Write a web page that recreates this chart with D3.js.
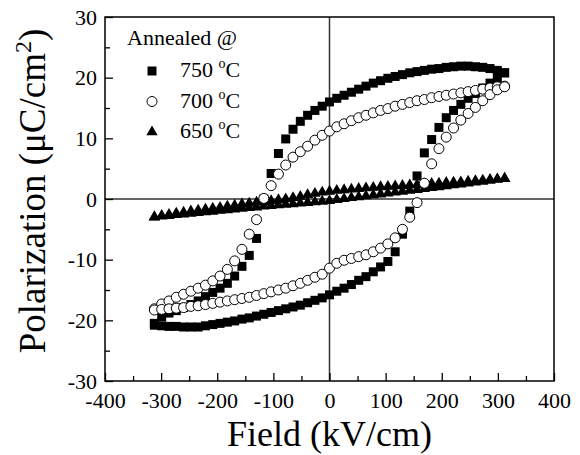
<!DOCTYPE html>
<html>
<head>
<meta charset="utf-8">
<script src="https://cdn.jsdelivr.net/npm/d3@7"></script>
<style>
  body { margin: 0; background: #fff; }
  text { font-family: "Liberation Serif", "Times New Roman", serif; fill: #000; }
</style>
</head>
<body>
<div id="chart"></div>
<script>
// field values (kV/cm), shared by every branch, ascending
const field = [-312, -299, -286, -273, -260, -247, -234, -221, -208, -195, -182, -169, -156, -143, -130, -117, -104, -91, -78, -65, -52, -39, -26, -13,
  0, 13, 26, 39, 52, 65, 78, 91, 104, 117, 130, 143, 156, 169, 182, 195, 208, 221, 234, 247, 260, 273, 286, 299, 312]

// polarization (uC/cm2) read off the loops, same order as field
// "up" = descending branch (upper curve), "down" = ascending branch (lower curve)
const p750up = [-20.5, -19.4, -18.8, -18.4, -17.9, -17.4, -16.8, -16.1, -15.4, -14.7, -13.9, -12.7, -11.1, -9.3, -6.5, 0.0, 4.2, 7.5, 9.9, 11.5, 12.8, 13.8, 14.6, 15.3,
  16.0, 16.6, 17.1, 17.6, 18.1, 18.6, 19.1, 19.5, 19.9, 20.2, 20.5, 20.8, 21.0, 21.2, 21.4, 21.5, 21.7, 21.8, 21.9, 21.9, 21.8, 21.7, 21.5, 21.2, 20.8]
const p750down = [-20.8, -20.9, -21.0, -21.0, -21.1, -21.1, -21.1, -20.9, -20.7, -20.5, -20.3, -20.1, -19.8, -19.6, -19.3, -19.0, -18.7, -18.4, -18.1, -17.8, -17.5, -17.1, -16.7, -16.3,
  -15.8, -15.2, -14.7, -14.1, -13.4, -12.8, -12.0, -11.2, -10.3, -8.7, -5.8, -2.0, 3.8, 7.6, 9.8, 11.8, 13.4, 14.6, 15.6, 16.6, 17.4, 18.3, 19.1, 19.9, 20.8]

const p700up = [-18.1, -17.3, -16.8, -16.2, -15.7, -15.2, -14.7, -14.2, -13.5, -12.7, -11.6, -10.2, -8.3, -5.8, -3.4, 0.1, 2.2, 4.1, 5.6, 6.9, 7.8, 8.7, 9.7, 10.5,
  11.2, 11.9, 12.4, 12.9, 13.4, 13.8, 14.2, 14.6, 14.9, 15.3, 15.6, 15.9, 16.2, 16.4, 16.7, 16.9, 17.1, 17.3, 17.5, 17.7, 17.9, 18.1, 18.3, 18.5, 18.6]
const p700down = [-18.3, -18.2, -18.1, -18.0, -17.9, -17.7, -17.6, -17.4, -17.2, -17.0, -16.8, -16.6, -16.4, -16.2, -15.9, -15.6, -15.3, -15.0, -14.7, -14.3, -13.9, -13.4, -12.9, -12.4,
  -11.4, -10.6, -10.1, -9.8, -9.5, -9.2, -8.7, -8.1, -7.4, -6.4, -5.0, -3.0, -0.6, 2.6, 5.8, 8.3, 10.2, 11.7, 13.0, 14.1, 15.1, 16.2, 17.2, 18.0, 18.5]

const p650up = [-3.0, -2.75, -2.55, -2.35, -2.2, -2.0, -1.85, -1.7, -1.55, -1.4, -1.2, -1.05, -0.85, -0.7, -0.55, -0.45, -0.3, -0.15, 0.0, 0.2, 0.4, 0.7, 0.9, 1.1,
  1.25, 1.4, 1.5, 1.6, 1.7, 1.8, 1.9, 2.0, 2.05, 2.15, 2.2, 2.3, 2.35, 2.45, 2.55, 2.6, 2.7, 2.75, 2.8, 2.9, 3.0, 3.1, 3.2, 3.3, 3.4]
const p650down = [-2.95, -2.85, -2.75, -2.6, -2.5, -2.4, -2.25, -2.15, -2.05, -1.9, -1.8, -1.7, -1.55, -1.45, -1.35, -1.2, -1.1, -1.0, -0.9, -0.8, -0.7, -0.6, -0.5, -0.4,
  -0.3, -0.1, 0.05, 0.2, 0.35, 0.5, 0.65, 0.8, 0.95, 1.1, 1.25, 1.4, 1.55, 1.7, 1.85, 2.0, 2.15, 2.3, 2.45, 2.6, 2.75, 2.9, 3.05, 3.2, 3.35]

const legendTitle = 'Annealed @'
const legendLabels = ['750', '700', '650']
const xTicks = [-400, -300, -200, -100, 0, 100, 200, 300, 400]
const yTicks = [-30, -20, -10, 0, 10, 20, 30]

const margin = { top: 17, right: 26, bottom: 74, left: 105 },
  width = 580 - margin.left - margin.right,
  height = 455 - margin.top - margin.bottom

const svg = d3
  .select('#chart')
  .append('svg')
  .attr('width', 580)
  .attr('height', 455)

const g = svg.append('g').attr('transform', `translate(${margin.left},${margin.top})`)

const x = d3.scaleLinear().domain([-400, 400]).range([0, width])
const y = d3.scaleLinear().domain([-30, 30]).range([height, 0])

// zero lines
g.append('line')
  .attr('x1', x(0)).attr('x2', x(0))
  .attr('y1', 0).attr('y2', height)
  .attr('stroke', '#333').attr('stroke-width', 1.5)
g.append('line')
  .attr('x1', 0).attr('x2', width)
  .attr('y1', y(0)).attr('y2', y(0))
  .attr('stroke', '#333').attr('stroke-width', 1.5)

// axes, ticks pointing inward
const xMinor = xTicks.slice(0, -1).map((d) => d + 50)
const yMinor = yTicks.slice(0, -1).map((d) => d + 5)
const plain = (d) => String(d) // keep the ascii hyphen like the original

const xAxis = g.append('g').attr('transform', `translate(0,${height})`)
xAxis.call(d3.axisBottom(x).tickValues(xTicks).tickSizeInner(-8).tickSizeOuter(0).tickPadding(11).tickFormat(plain))
xAxis.append('g').call(d3.axisBottom(x).tickValues(xMinor).tickSizeInner(-5).tickSizeOuter(0).tickFormat(''))

const yAxis = g.append('g')
yAxis.call(d3.axisLeft(y).tickValues(yTicks).tickSizeInner(-8).tickSizeOuter(0).tickPadding(8).tickFormat(plain))
yAxis.append('g').call(d3.axisLeft(y).tickValues(yMinor).tickSizeInner(-5).tickSizeOuter(0).tickFormat(''))

g.selectAll('.domain').remove()
g.selectAll('.tick line').attr('stroke', '#000').attr('stroke-width', 1.3)
g.selectAll('.tick text')
  .style('font-family', '"Liberation Serif", "Times New Roman", serif')
  .style('font-size', '22px')
  .attr('fill', '#000')

// frame
g.append('rect')
  .attr('width', width).attr('height', height)
  .attr('fill', 'none').attr('stroke', '#000').attr('stroke-width', 1.5)

// markers
const toPts = (ps) => field.map((f, i) => ({ f: f, p: ps[i] }))

const tri = d3.symbol().type(d3.symbolTriangle).size(56)
const sq = d3.symbol().type(d3.symbolSquare).size(81)

g.selectAll('.s650')
  .data(toPts(p650up).concat(toPts(p650down)))
  .join('path')
  .attr('class', 's650')
  .attr('d', tri)
  .attr('transform', (d) => `translate(${x(d.f)},${y(d.p)})`)
  .attr('fill', '#000')

g.selectAll('.s750')
  .data(toPts(p750up).concat(toPts(p750down)))
  .join('path')
  .attr('class', 's750')
  .attr('d', sq)
  .attr('transform', (d) => `translate(${x(d.f)},${y(d.p)})`)
  .attr('fill', '#000')

g.selectAll('.s700')
  .data(toPts(p700up).concat(toPts(p700down)))
  .join('circle')
  .attr('class', 's700')
  .attr('cx', (d) => x(d.f))
  .attr('cy', (d) => y(d.p))
  .attr('r', 5)
  .attr('fill', '#fff')
  .attr('stroke', '#000')
  .attr('stroke-width', 1)

// legend
const leg = svg.append('g').attr('transform', 'translate(127,45)')
leg.append('text').attr('x', 0).attr('y', 0).style('font-size', '22px').text(legendTitle)

const symbols = [
  (s) => s.append('path').attr('d', sq).attr('fill', '#000'),
  (s) => s.append('circle').attr('r', 5).attr('fill', '#fff').attr('stroke', '#000'),
  (s) => s.append('path').attr('d', tri).attr('fill', '#000')
]
legendLabels.forEach((lab, i) => {
  const row = leg.append('g').attr('transform', `translate(0,${32 + i * 30.5})`)
  symbols[i](row.append('g').attr('transform', 'translate(25,-6)'))
  const t = row.append('text').attr('x', 53).attr('y', 0).style('font-size', '22px')
  t.append('tspan').text(lab + ' ')
  t.append('tspan').attr('dy', -9).style('font-size', '14px').text('o')
  t.append('tspan').attr('dy', 9).text('C')
})

// axis titles
svg.append('text')
  .attr('x', margin.left + x(0))
  .attr('y', 446)
  .attr('text-anchor', 'middle')
  .style('font-size', '36px')
  .text('Field (kV/cm)')

const yt = svg.append('text')
  .attr('transform', `translate(45,${margin.top + y(0) - 8}) rotate(-90)`)
  .attr('text-anchor', 'middle')
  .style('font-size', '37px')
yt.append('tspan').text('Polarization (\u03bcC/cm')
yt.append('tspan').attr('dy', -14).style('font-size', '24px').text('2')
yt.append('tspan').attr('dy', 14).text(')')
</script>
</body>
</html>
